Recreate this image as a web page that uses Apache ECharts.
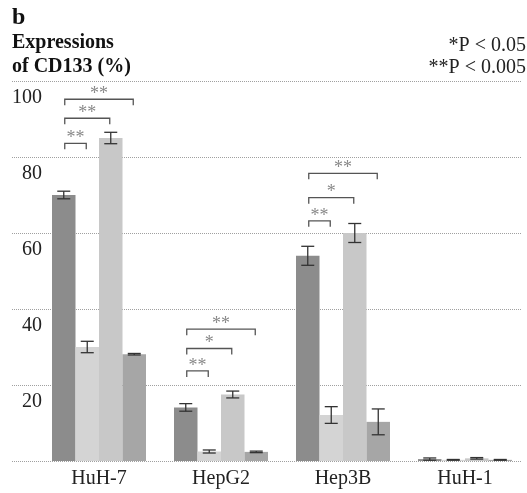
<!DOCTYPE html>
<html><head><meta charset="utf-8">
<script src="https://cdn.jsdelivr.net/npm/echarts@6/dist/echarts.min.js"></script>
<style>html,body{margin:0;padding:0;background:#fff}#c{width:527px;height:493px}</style>
</head><body><div id="c"></div>
<script>
var categories = ['HuH-7', 'HepG2', 'Hep3B', 'HuH-1'];
var yTicks = [0, 20, 40, 60, 80, 100];
var s1 = [70, 14.1, 54, 0.5];
var s2 = [30, 2.5, 12.1, 0.3];
var s3 = [85, 17.5, 60, 0.7];
var s4 = [28.1, 2.4, 10.3, 0.3];
var e1 = [1, 1, 2.5, 0.3];
var e2 = [1.5, 0.4, 2.2, 0.1];
var e3 = [1.5, 0.9, 2.5, 0.2];
var e4 = [0.2, 0.2, 3.4, 0.1];
var sigCat = [0, 0, 0, 1, 1, 1, 2, 2, 2];
var sigFrom = [0, 0, 0, 0, 0, 0, 0, 0, 0];
var sigTo = [1, 2, 3, 1, 2, 3, 1, 2, 3];
var sigLevel = [83.6, 90.2, 95.2, 23.7, 29.6, 34.7, 63.2, 69.3, 75.7];
var sigText = ['**', '**', '**', '**', '*', '**', '**', '*', '**'];

var FONT = 'Liberation Serif';
var BAR_W = 23.5;
var colors = ['#8c8c8c', '#d4d4d4', '#c8c8c8', '#a6a6a6'];
var values = [s1, s2, s3, s4];
var errs = [e1, e2, e3, e4];

var chart = echarts.init(document.getElementById('c'), null, {renderer: 'canvas'});

var barSeries = values.map(function (v, k) {
  return {
    type: 'bar', xAxisIndex: 1, yAxisIndex: 1,
    data: v, barWidth: BAR_W, barGap: '0%',
    itemStyle: {color: colors[k]}, silent: true, z: 2
  };
});

var errData = [];
values.forEach(function (v, k) {
  v.forEach(function (val, i) { errData.push([i, val, errs[k][i], k]); });
});

var errSeries = {
  type: 'custom', xAxisIndex: 1, yAxisIndex: 1, z: 5, silent: true,
  data: errData,
  renderItem: function (params, api) {
    var cat = api.value(0), val = api.value(1), er = api.value(2), k = api.value(3);
    var cx = api.coord([cat, 0])[0] + (k - 1.5) * BAR_W;
    var yt = api.coord([cat, val + er])[1];
    var yb = api.coord([cat, Math.max(0, val - er)])[1];
    var hw = 6.5;
    var st = {stroke: '#333', lineWidth: 1.3, fill: null};
    return {type: 'group', children: [
      {type: 'line', shape: {x1: cx, y1: yt, x2: cx, y2: yb}, style: st},
      {type: 'line', shape: {x1: cx - hw, y1: yt, x2: cx + hw, y2: yt}, style: st},
      {type: 'line', shape: {x1: cx - hw, y1: yb, x2: cx + hw, y2: yb}, style: st}
    ]};
  }
};

var sigData = sigCat.map(function (c, i) { return [c, sigFrom[i], sigTo[i], sigLevel[i], i]; });
var sigSeries = {
  type: 'custom', xAxisIndex: 1, yAxisIndex: 1, z: 6, silent: true,
  data: sigData,
  renderItem: function (params, api) {
    var cat = api.value(0), a = api.value(1), b = api.value(2), lvl = api.value(3), idx = api.value(4);
    var c = api.coord([cat, lvl]);
    var xa = c[0] + (a - 1.5) * BAR_W + 1;
    var xb = c[0] + (b - 1.5) * BAR_W - 1;
    var y = c[1];
    var leg = 6;
    return {type: 'group', children: [
      {type: 'polyline', shape: {points: [[xa, y + leg], [xa, y], [xb, y], [xb, y + leg]]},
        style: {stroke: '#555', lineWidth: 1.3, fill: null}},
      {type: 'text', style: {text: sigText[idx], x: (xa + xb) / 2, y: y + 4,
        align: 'center', verticalAlign: 'bottom', fontFamily: FONT, fontSize: 18, fill: '#888'}}
    ]};
  }
};

chart.setOption({
  animation: false,
  grid: [
    {left: 12, right: 5, top: 81, bottom: 32},
    {left: 38, right: 1, top: 81, bottom: 32}
  ],
  xAxis: [
    {type: 'value', gridIndex: 0, show: false, min: 0, max: 1},
    {type: 'category', gridIndex: 1, data: categories,
      axisLine: {show: false}, axisTick: {show: false},
      axisLabel: {fontFamily: FONT, fontSize: 20, color: '#222', margin: 8}}
  ],
  yAxis: [
    {type: 'value', gridIndex: 0, min: yTicks[0], max: yTicks[yTicks.length - 1], interval: 20,
      axisLine: {show: false}, axisTick: {show: false},
      splitLine: {show: true, lineStyle: {type: 'dotted', color: '#a0a0a0', width: 1}},
      axisLabel: {inside: true, align: 'right', margin: 30, fontFamily: FONT, fontSize: 20, color: '#222',
        verticalAlign: 'top', lineHeight: 33,
        formatter: function (v) { return v === 0 ? '' : String(v); }}},
    {type: 'value', gridIndex: 1, min: yTicks[0], max: yTicks[yTicks.length - 1], interval: 20, show: false}
  ],
  graphic: [
    {type: 'text', left: 12, top: 6, style: {text: 'b', fontFamily: FONT, fontWeight: 'bold', fontSize: 24, fill: '#111'}},
    {type: 'text', left: 12, top: 33, style: {text: 'Expressions', fontFamily: FONT, fontWeight: 'bold', fontSize: 20, fill: '#111'}},
    {type: 'text', left: 12, top: 57, style: {text: 'of CD133 (%)', fontFamily: FONT, fontWeight: 'bold', fontSize: 20, fill: '#111'}},
    {type: 'text', right: 1, top: 36, style: {text: '*P < 0.05', fontFamily: FONT, fontSize: 20, fill: '#222'}},
    {type: 'text', right: 1, top: 58, style: {text: '**P < 0.005', fontFamily: FONT, fontSize: 20, fill: '#222'}}
  ],
  series: barSeries.concat([errSeries, sigSeries])
});
</script></body></html>
